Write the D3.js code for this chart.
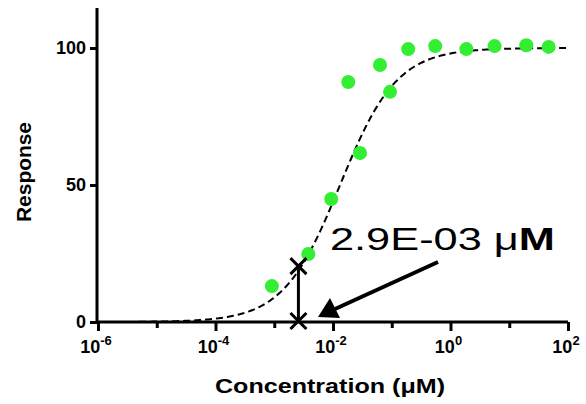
<!DOCTYPE html>
<html><head><meta charset="utf-8">
<script src="https://cdn.jsdelivr.net/npm/d3@7"></script>
<style>body{margin:0;background:#fff}svg{font-family:"Liberation Sans",Arial,sans-serif}</style>
</head><body><div id="chart"></div>
<script>
// data
const logConc  = [-3.04, -2.42, -2.03, -1.74, -1.54, -1.2, -1.03, -0.72, -0.26, 0.27, 0.75, 1.29, 1.67];
const response = [13.1, 24.8, 44.9, 87.6, 61.7, 93.8, 84, 99.6, 100.7, 99.6, 100.7, 101, 100.4];
const xTicks = [-6, -4, -2, 0, 2];
const yTicks = [0, 50, 100];
// fitted curve parameters
const fitTop = 100, fitLogMid = -1.88, fitHill = 0.9;
const markLog = Math.log10(2.9e-3);

const W = 586, H = 404;
const svg = d3.select("#chart").append("svg").attr("width", W).attr("height", H);

const x = d3.scaleLinear().domain([-6, 2]).range([98, 568]);
const y = d3.scaleLinear().domain([0, 100]).range([322, 48]);

// axes
const xAxis = svg.append("g").attr("transform", "translate(0,322)")
  .call(d3.axisBottom(x).tickValues(d3.range(-6, 2.01, 1)).tickSize(7).tickFormat(""));
xAxis.selectAll(".tick line").attr("y2", d => xTicks.includes(d) ? 9 : 6);
xAxis.select(".domain").attr("d", "M98,0H568");
const yAxis = svg.append("g").attr("transform", "translate(97,0)")
  .call(d3.axisLeft(y).tickValues(yTicks).tickSize(7).tickFormat(d => d));
yAxis.select(".domain").attr("d", "M0,8V322");
[xAxis, yAxis].forEach(g => {
  g.selectAll("path,line").attr("stroke", "#000").attr("stroke-width", 3);
  g.selectAll("text").attr("fill", "#000").style("font-size", "18px").style("font-weight", "bold");
});
yAxis.selectAll("text").attr("x", -11);

// x tick labels 10^n
const xl = svg.append("g");
xTicks.forEach(t => {
  const tx = xl.append("text").attr("x", x(t) - 2).attr("y", 353).attr("text-anchor", "middle")
    .style("font-size", "18px").style("font-weight", "bold");
  tx.append("tspan").text("10");
  tx.append("tspan").attr("dy", -8).style("font-size", "13px").text(t);
});

// axis titles
svg.append("text").attr("x", 215).attr("y", 393).attr("textLength", 230).attr("lengthAdjust", "spacingAndGlyphs")
  .style("font-size", "20px").style("font-weight", "bold").text("Concentration (μM)");
svg.append("text").attr("transform", "translate(31,222) rotate(-90)").attr("textLength", 100).attr("lengthAdjust", "spacingAndGlyphs")
  .style("font-size", "20px").style("font-weight", "bold").text("Response");

// fitted curve
const fit = l => fitTop / (1 + Math.pow(10, (fitLogMid - l) * fitHill));
const curvePts = d3.range(-5.3, 2.001, 0.02).map(l => [l, fit(l)]);
svg.append("path").datum(curvePts)
  .attr("d", d3.line().x(d => x(d[0])).y(d => y(d[1])))
  .attr("fill", "none").attr("stroke", "#000").attr("stroke-width", 2).attr("stroke-dasharray", "7,4");

// points
svg.selectAll(".pt").data(logConc).enter().append("circle")
  .attr("cx", d => x(d)).attr("cy", (d, i) => y(response[i])).attr("r", 7).attr("fill", "#33ee33");

// EC marker
const mx = x(markLog) - 3, my1 = y(fit(markLog)), my2 = y(0) - 1;
svg.append("line").attr("x1", mx).attr("x2", mx).attr("y1", my1).attr("y2", my2).attr("stroke", "#000").attr("stroke-width", 3);
[my1, my2].forEach(cy => {
  svg.append("path").attr("d", `M${mx-8},${cy-8}L${mx+8},${cy+8}M${mx-8},${cy+8}L${mx+8},${cy-8}`)
    .attr("stroke", "#000").attr("stroke-width", 3);
});

// arrow
svg.append("line").attr("x1", 438).attr("y1", 262).attr("x2", 335).attr("y2", 309).attr("stroke", "#000").attr("stroke-width", 4);
svg.append("path").attr("d", "M318,317L330,298L340,318Z").attr("fill", "#000");

const lbl = svg.append("text").attr("x", 330).attr("y", 250).style("font-size", "31px");
lbl.append("tspan").text("2.9E-03 μ");
lbl.append("tspan").style("font-weight", "bold").text("M");
const lw = lbl.node().getComputedTextLength();
lbl.attr("transform", `translate(330,0) scale(${225 / lw},1) translate(-330,0)`);
</script></body></html>
